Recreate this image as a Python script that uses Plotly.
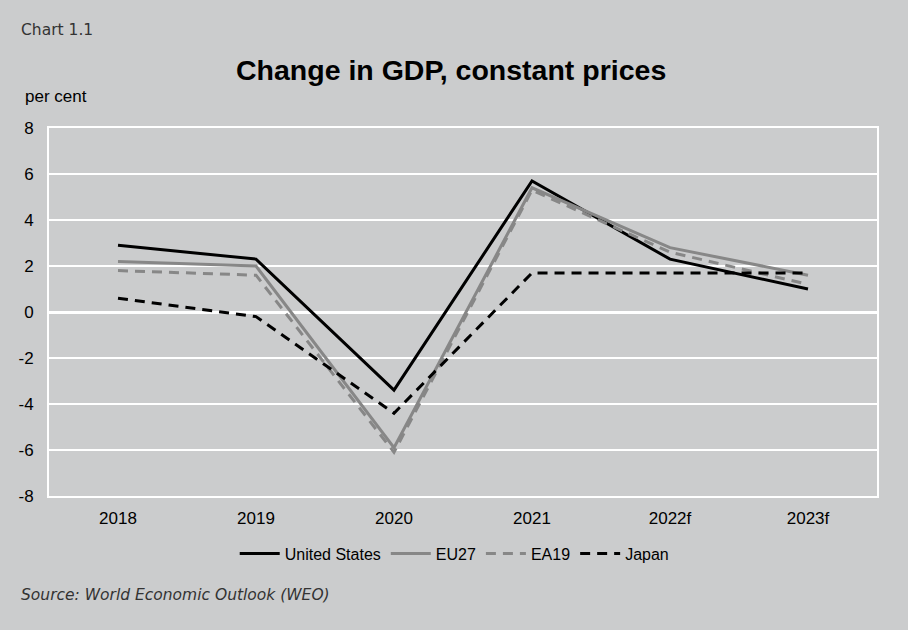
import plotly.graph_objects as go

# Annual real GDP growth, per cent
years = ["2018", "2019", "2020", "2021", "2022f", "2023f"]
united_states = [2.9, 2.3, -3.4, 5.7, 2.3, 1.0]
eu27 = [2.2, 2.0, -5.9, 5.4, 2.8, 1.6]
ea19 = [1.8, 1.6, -6.1, 5.3, 2.6, 1.2]
japan = [0.6, -0.2, -4.4, 1.7, 1.7, 1.7]

# Value axis ticks (plain hyphen for negatives)
y_ticks = [-8, -6, -4, -2, 0, 2, 4, 6, 8]
y_tick_labels = ["-8", "-6", "-4", "-2", "0", "2", "4", "6", "8"]

BG = "#cbcccd"
GREY = "#878787"

series = [
    ("United States", united_states, "#000000", "solid"),
    ("EU27", eu27, GREY, "solid"),
    ("EA19", ea19, GREY, "10px,7px"),
    ("Japan", japan, "#000000", "10px,7px"),
]

fig = go.Figure()
for name, vals, color, dash in series:
    fig.add_trace(go.Scatter(
        x=years, y=vals, name=name, mode="lines",
        line=dict(color=color, width=3, dash=dash),
    ))

fig.update_layout(
    width=908, height=630,
    paper_bgcolor=BG, plot_bgcolor=BG,
    margin=dict(l=49, r=31, t=128, b=134),
    font=dict(family="Liberation Sans, Arial, sans-serif", size=17, color="#000000"),
    showlegend=True,
    legend=dict(
        orientation="h", x=0.49, xanchor="center", y=-0.11, yanchor="top",
        font=dict(size=16), bgcolor="rgba(0,0,0,0)", itemwidth=40,
        tracegroupgap=0,
    ),
    xaxis=dict(
        type="category", range=[-0.5, 5.5],
        showgrid=False, showline=True, linecolor="white", linewidth=2,
        mirror=True, ticks="", ticklabelstandoff=6, zeroline=False,
        tickfont=dict(size=17),
    ),
    yaxis=dict(
        range=[-8, 8], tickvals=y_ticks, ticktext=y_tick_labels,
        showgrid=True, gridcolor="white", gridwidth=1.5,
        zeroline=True, zerolinecolor="white", zerolinewidth=2.5,
        showline=True, linecolor="white", linewidth=2, mirror=True,
        ticks="", ticklabelstandoff=10, tickfont=dict(size=17),
    ),
    annotations=[
        dict(text="Chart 1.1", xref="paper", yref="paper", x=-0.036, y=1.265,
             xanchor="left", yanchor="middle", showarrow=False,
             font=dict(family="DejaVu Sans, sans-serif", size=15.5, color="#333333")),
        dict(text="<b>Change in GDP, constant prices</b>", xref="paper", yref="paper",
             x=0.485, y=1.157, xanchor="center", yanchor="middle", showarrow=False,
             font=dict(family="Liberation Sans, Arial, sans-serif", size=28.5, color="#000000")),
        dict(text="per cent", xref="paper", yref="paper", x=-0.032, y=1.085,
             xanchor="left", yanchor="middle", showarrow=False,
             font=dict(family="Liberation Sans, Arial, sans-serif", size=17)),
        dict(text="<i>Source: World Economic Outlook (WEO)</i>", xref="paper", yref="paper",
             x=-0.036, y=-0.27, xanchor="left", yanchor="middle", showarrow=False,
             font=dict(family="DejaVu Sans, sans-serif", size=15.5, color="#333333")),
    ],
)

fig.write_html("out.html")
